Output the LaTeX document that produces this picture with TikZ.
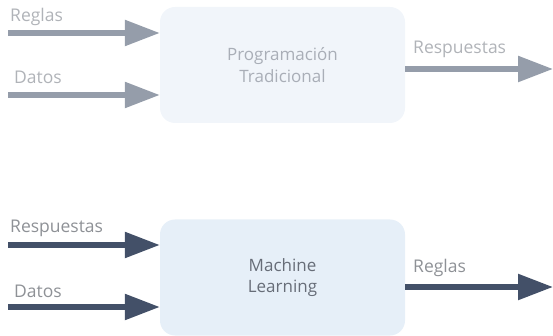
\documentclass[tikz,border=0pt]{standalone}
\usepackage{fontspec}
\setmainfont{Open Sans}
\usetikzlibrary{arrows.meta}
\definecolor{boxA}{HTML}{F1F5FA}
\definecolor{boxB}{HTML}{E6EFF8}
\definecolor{arrA}{HTML}{959DAA}
\definecolor{arrB}{HTML}{435068}
\definecolor{txtA}{HTML}{B0B3B8}
\definecolor{txtB}{HTML}{8E9196}
\definecolor{boxtxtA}{HTML}{A9AEB7}
\definecolor{boxtxtB}{HTML}{676D78}
\tikzset{
  proc/.style={rounded corners=15pt, minimum width=245pt, minimum height=116pt, align=center, font=\fontsize{17}{21.5}\selectfont, inner sep=0pt},
  flow/.style={line width=5.5pt, -{Triangle[length=35pt,width=25pt]}},
  lbl/.style={anchor=base west, font=\fontsize{17.5}{20}\selectfont, inner sep=0pt},
}
\begin{document}
\begin{tikzpicture}[x=1pt,y=-1pt]
\useasboundingbox (0,0) rectangle (553,336);
% top
\node[proc, fill=boxA, text=boxtxtA] (pt) at (282.5,65) {Programación\\Tradicional};
\coordinate (r1) at (8,33);
\coordinate (d1) at (8,95);
\coordinate (o1) at (553,69);
\draw[flow, arrA] (r1) -- (r1 -| pt.west);
\draw[flow, arrA] (d1) -- (d1 -| pt.west);
\draw[flow, arrA] (o1 -| pt.east) -- (o1);
\node[lbl, text=txtA] (lr1) at (10,22) {Reglas};
\node[lbl, text=txtA] (ld1) at (14,84) {Datos};
\node[lbl, text=txtA] (lo1) at (413,54) {Respuestas};
% bottom
\node[proc, fill=boxB, text=boxtxtB] (ml) at (282.5,277.5) {Machine\\Learning};
\coordinate (r2) at (8,245);
\coordinate (d2) at (8,307);
\coordinate (o2) at (553,287);
\draw[flow, arrB] (r2) -- (r2 -| ml.west);
\draw[flow, arrB] (d2) -- (d2 -| ml.west);
\draw[flow, arrB] (o2 -| ml.east) -- (o2);
\node[lbl, text=txtB] (lr2) at (10,233) {Respuestas};
\node[lbl, text=txtB] (ld2) at (14,297) {Datos};
\node[lbl, text=txtB] (lo2) at (413,272) {Reglas};
\end{tikzpicture}
\end{document}
